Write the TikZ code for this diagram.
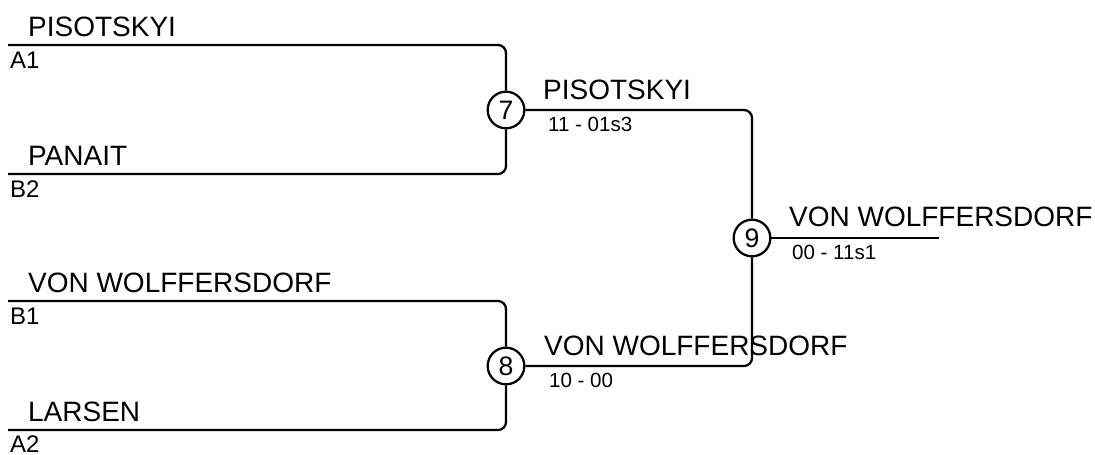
\documentclass[tikz,border=0pt]{standalone}
\usepackage{fontspec}
\setmainfont{Liberation Sans}
\begin{document}
\begin{tikzpicture}[x=0.75pt, y=-0.75pt, line width=1.7pt, line join=round,
  spiel/.style={circle, draw, fill=white, minimum size=27.5pt, inner sep=0pt,
    font=\fontsize{20}{22}\selectfont},
  spieler/.style={anchor=base west, inner sep=0pt, font=\fontsize{21}{25}\selectfont},
  setz/.style={anchor=base west, inner sep=0pt, font=\fontsize{18}{20}\selectfont},
  erg/.style={anchor=base west, inner sep=0pt, font=\fontsize{15.4}{18}\selectfont},
  ast/.style={rounded corners=6pt}]
  \useasboundingbox (0,0) rectangle (1095,454);
  % Spiele 7, 8 und Finale 9
  \node[spiel] (s7) at (506,110) {7};
  \node[spiel] (s8) at (506,366) {8};
  \node[spiel] (s9) at (752,238) {9};
  % Anfangs- und Endpunkte der Linien
  \coordinate (a1) at (8,45);
  \coordinate (b2) at (8,174);
  \coordinate (b1) at (8,301);
  \coordinate (a2) at (8,430);
  \coordinate (ende) at (939,238);
  % Turnierbaum
  \draw[ast] (a1) -| (s7);
  \draw[ast] (b2) -| (s7);
  \draw[ast] (b1) -| (s8);
  \draw[ast] (a2) -| (s8);
  \draw[ast] (s7) -| (s9);
  \draw[ast] (s8) -| (s9);
  \draw (s9) -- (ende);
  % Spieler und Setzplaetze
  \node[spieler] (p1) at (27,36) {PISOTSKYI};
  \node[setz] (q1) at (9,68) {A1};
  \node[spieler] (p2) at (27,165) {PANAIT};
  \node[setz] (q2) at (9,197) {B2};
  \node[spieler] (p3) at (27,292) {VON WOLFFERSDORF};
  \node[setz] (q3) at (9,324) {B1};
  \node[spieler] (p4) at (27,421) {LARSEN};
  \node[setz] (q4) at (9,452) {A2};
  % Sieger und Ergebnisse
  \node[spieler] (w7) at (542,99) {PISOTSKYI};
  \node[erg] (e7) at (547,131) {11 - 01s3};
  \node[spieler] (w8) at (543,355) {VON WOLFFERSDORF};
  \node[erg] (e8) at (548,387) {10 - 00};
  \node[spieler] (w9) at (788,226) {VON WOLFFERSDORF};
  \node[erg] (e9) at (791,259) {00 - 11s1};
\end{tikzpicture}
\end{document}
